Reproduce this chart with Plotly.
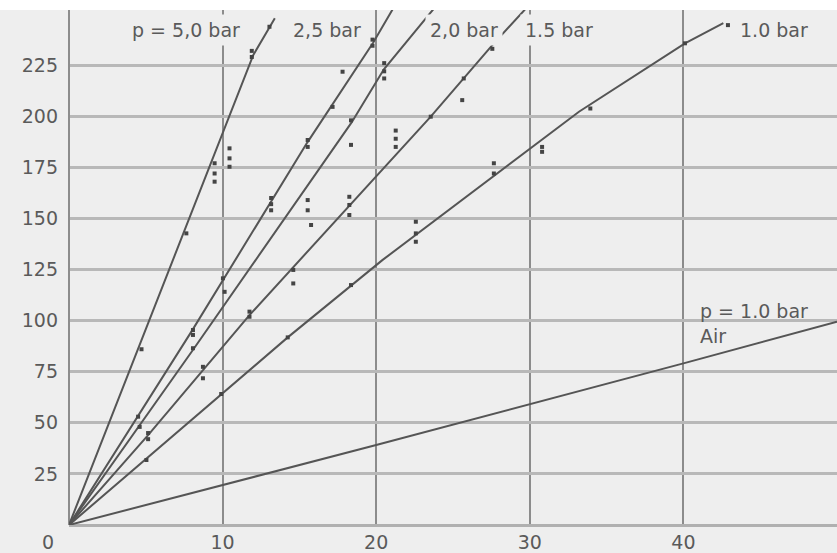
import plotly.graph_objects as go

# ---- fitted curves ----
line_5_x = [0, 7.0, 12.0, 13.4]
line_5_y = [0, 134, 230, 248]
line_25_x = [0, 8.0, 15.5, 19.8, 21.2]
line_25_y = [0, 95, 187, 236, 254]
line_20_x = [0, 8.1, 18.4, 20.5, 23.9]
line_20_y = [0, 86, 197, 223, 254]
line_15_x = [0, 5.15, 11.75, 23.55, 27.56, 29.9]
line_15_y = [0, 44, 102.7, 199.8, 234.8, 254]
line_10_x = [0, 9.91, 14.24, 20.4, 30.6, 33.2, 40.1, 42.6]
line_10_y = [0, 64.1, 91.8, 129.6, 187.4, 202.2, 235.7, 245.6]
air_x = [0, 10, 20, 40, 50]
air_y = [0, 19.6, 39.1, 79.1, 99.5]

# ---- measured points ----
pts_5_x = [4.72, 7.64, 9.48, 9.48, 9.48, 10.45, 10.45, 10.45, 11.9, 11.9, 13.05]
pts_5_y = [86, 142.7, 177, 172, 168, 184.3, 179.4, 175.3, 232, 229, 243.8]
pts_25_x = [4.5, 8.07, 8.07, 10.02, 13.16, 13.16, 13.16, 15.54, 15.54, 17.16, 17.81, 19.76, 19.76]
pts_25_y = [53, 95.4, 93, 120.7, 160, 157, 154, 188.4, 185, 204.6, 221.8, 237.5, 234.5]
pts_20_x = [4.6, 8.07, 10.13, 15.54, 15.54, 15.76, 18.36, 18.36, 20.52, 20.52, 20.52]
pts_20_y = [48, 86.5, 114.1, 159, 154, 146.8, 198, 186, 226, 222, 218.5]
pts_15_x = [5.15, 5.15, 8.72, 8.72, 11.75, 11.75, 14.6, 14.6, 18.25, 18.25, 18.25,
            21.27, 21.27, 21.27, 23.55, 25.6, 25.7, 27.56, 27.56]
pts_15_y = [45, 42, 77.4, 71.8, 104.4, 101.9, 124.8, 118.2, 160.6, 156.6, 151.7,
            193, 189, 185, 199.8, 207.9, 218.5, 236, 233]
pts_10_x = [5.04, 9.91, 14.24, 18.36, 22.58, 22.58, 22.58, 27.66, 27.66, 30.8, 30.8, 33.94, 40.1, 42.9]
pts_10_y = [31.8, 64.1, 91.8, 117.4, 148.4, 142.7, 138.6, 177, 172, 185, 182.6, 203.8, 235.7, 244.6]

x_ticks = [10, 20, 30, 40]
y_ticks = [25, 50, 75, 100, 125, 150, 175, 200, 225]

curve_labels = ["p = 5,0 bar", "2,5 bar", "2,0 bar", "1.5 bar", "1.0 bar"]
curve_label_x = [3.78, 14.26, 23.18, 29.36, 43.36]
air_label = "p = 1.0 bar<br>Air"

BG = "#eeeeee"
LINE = "#555555"
TXT = "#5a5a5a"
FONT = "DejaVu Sans"

fig = go.Figure()
for lx, ly in [(line_5_x, line_5_y), (line_25_x, line_25_y), (line_20_x, line_20_y),
               (line_15_x, line_15_y), (line_10_x, line_10_y), (air_x, air_y)]:
    fig.add_trace(go.Scatter(x=lx, y=ly, mode="lines", line=dict(color=LINE, width=2),
                             showlegend=False, hoverinfo="skip"))
for px, py in [(pts_5_x, pts_5_y), (pts_25_x, pts_25_y), (pts_20_x, pts_20_y),
               (pts_15_x, pts_15_y), (pts_10_x, pts_10_y)]:
    fig.add_trace(go.Scatter(x=px, y=py, mode="markers",
                             marker=dict(color="#444444", size=4, symbol="square"),
                             showlegend=False, cliponaxis=True))

for t, xx in zip(curve_labels, curve_label_x):
    fig.add_annotation(x=xx, y=242, xref="x", yref="y", text=t, showarrow=False,
                       xanchor="left", yanchor="middle", bgcolor=BG, borderpad=4,
                       font=dict(family=FONT, size=19, color=TXT))
fig.add_annotation(x=40.95, y=98.6, xref="x", yref="y", text=air_label, showarrow=False,
                   xanchor="left", yanchor="middle", align="left",
                   font=dict(family=FONT, size=19, color=TXT))
fig.add_annotation(x=-21 / 768, y=-17 / 515, xref="paper", yref="paper", text="0",
                   showarrow=False, xanchor="center", yanchor="middle",
                   font=dict(family=FONT, size=19, color=TXT))

fig.add_shape(type="rect", xref="paper", yref="paper", x0=-0.2, x1=1.05, y0=1, y1=1.05,
              fillcolor="white", line=dict(width=0), layer="above")

fig.update_layout(
    width=837, height=553,
    margin=dict(l=69, r=0, t=10, b=28),
    paper_bgcolor=BG, plot_bgcolor=BG,
    font=dict(family=FONT, size=19, color=TXT),
    xaxis=dict(range=[0, 50], tickvals=x_ticks, showgrid=True, gridcolor="#8c8c8c",
               gridwidth=2, zeroline=True, zerolinecolor="#8c8c8c", zerolinewidth=2,
               showline=False, ticks="", ticklabelstandoff=4, fixedrange=True),
    yaxis=dict(range=[0, 252], tickvals=y_ticks, showgrid=True, gridcolor="#b8b8b8",
               gridwidth=2.5, zeroline=True, zerolinecolor="#b0b0b0", zerolinewidth=2.5,
               showline=False, ticks="", ticklabelstandoff=10, fixedrange=True),
)

fig.write_html("out.html")
